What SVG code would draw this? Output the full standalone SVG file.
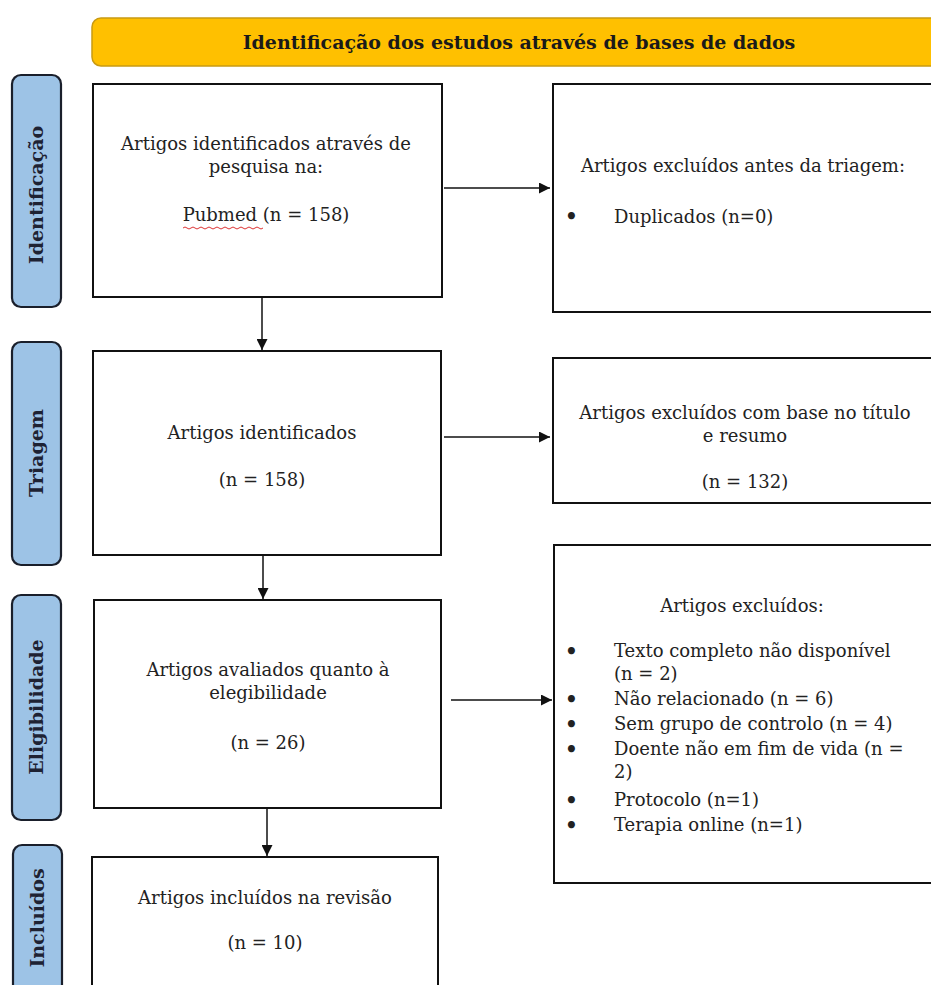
<svg xmlns="http://www.w3.org/2000/svg" width="931" height="985" viewBox="0 0 931 985">
<defs>
<style>
.box{fill:#fff;stroke:#111;stroke-width:2}
.side{fill:#9DC3E6;stroke:#1a1f2b;stroke-width:2.2}
.t{font-family:"DejaVu Serif","Liberation Serif",serif;font-size:18px;fill:#222}
.c{text-anchor:middle}
.b{font-size:20px;font-weight:bold}
.sl{font-family:"DejaVu Serif","Liberation Serif",serif;font-size:19px;font-weight:bold;fill:#1e2233;text-anchor:middle}
.hd{font-family:"DejaVu Serif","Liberation Serif",serif;font-size:19px;font-weight:bold;fill:#1a1a1a;text-anchor:middle}
.ln{stroke:#111;stroke-width:1.5;fill:none}
</style>
<marker id="ah" viewBox="0 0 10 10" refX="10" refY="5" markerWidth="11" markerHeight="11" markerUnits="userSpaceOnUse" orient="auto">
<path d="M0,0 L10,5 L0,10 z" fill="#111"/>
</marker>
</defs>
<rect width="931" height="985" fill="#fff"/>

<g id="header">
<rect x="92" y="18" width="850" height="48" rx="9" fill="#FFC000" stroke="#C99A12" stroke-width="1.5"/>
<text class="hd" x="519" y="49">Identificação dos estudos através de bases de dados</text>
</g>

<g id="lbl-identificacao">
<rect class="side" x="12" y="75" width="49" height="232" rx="9"/>
<text class="sl" transform="translate(43,195) rotate(-90)">Identificação</text>
</g>
<g id="lbl-triagem">
<rect class="side" x="12" y="342" width="49" height="223" rx="9"/>
<text class="sl" transform="translate(43,453) rotate(-90)">Triagem</text>
</g>
<g id="lbl-eligibilidade">
<rect class="side" x="12" y="595" width="49" height="225" rx="9"/>
<text class="sl" transform="translate(43,707) rotate(-90)">Eligibilidade</text>
</g>
<g id="lbl-incluidos">
<rect class="side" x="13" y="845" width="49" height="160" rx="9"/>
<text class="sl" transform="translate(44,918) rotate(-90)">Incluídos</text>
</g>

<g id="box-identificados">
<rect class="box" x="93" y="84" width="349" height="213"/>
<text class="t c" x="266" y="150">Artigos identificados através de</text>
<text class="t c" x="266" y="173">pesquisa na:</text>
<text class="t c" x="266" y="221">Pubmed (n = 158)</text>
<path d="M183,228 q2,-2 4,0 t4,0 t4,0 t4,0 t4,0 t4,0 t4,0 t4,0 t4,0 t4,0 t4,0 t4,0 t4,0 t4,0 t4,0 t4,0 t4,0 t4,0 t4,0 t4,0" fill="none" stroke="#d33" stroke-width="1"/>
</g>

<g id="box-excl-antes">
<rect class="box" x="553" y="84" width="390" height="228"/>
<text class="t c" x="743" y="172">Artigos excluídos antes da triagem:</text>
<text class="t b" x="565" y="223">•</text>
<text class="t" x="614" y="223">Duplicados (n=0)</text>
</g>

<g id="box-triagem">
<rect class="box" x="93" y="351" width="348" height="204"/>
<text class="t c" x="262" y="439">Artigos identificados</text>
<text class="t c" x="262" y="486">(n = 158)</text>
</g>

<g id="box-excl-titulo">
<rect class="box" x="553" y="358" width="390" height="145"/>
<text class="t c" x="745" y="419">Artigos excluídos com base no título</text>
<text class="t c" x="745" y="442">e resumo</text>
<text class="t c" x="745" y="488">(n = 132)</text>
</g>

<g id="box-elegibilidade">
<rect class="box" x="94" y="600" width="347" height="208"/>
<text class="t c" x="268" y="676">Artigos avaliados quanto à</text>
<text class="t c" x="268" y="699">elegibilidade</text>
<text class="t c" x="268" y="749">(n = 26)</text>
</g>

<g id="box-excluidos">
<rect class="box" x="554" y="545" width="389" height="338"/>
<text class="t c" x="742" y="612">Artigos excluídos:</text>
<g class="t">
<text class="b" x="565" y="658">•</text><text x="614" y="657">Texto completo não disponível</text>
<text x="614" y="680">(n = 2)</text>
<text class="b" x="565" y="706">•</text><text x="614" y="705">Não relacionado (n = 6)</text>
<text class="b" x="565" y="731">•</text><text x="614" y="730">Sem grupo de controlo (n = 4)</text>
<text class="b" x="565" y="756">•</text><text x="614" y="755">Doente não em fim de vida (n =</text>
<text x="614" y="778">2)</text>
<text class="b" x="565" y="807">•</text><text x="614" y="806">Protocolo (n=1)</text>
<text class="b" x="565" y="832">•</text><text x="614" y="831">Terapia online (n=1)</text>
</g>
</g>

<g id="box-incluidos">
<rect class="box" x="92" y="857" width="346" height="140"/>
<text class="t c" x="265" y="904">Artigos incluídos na revisão</text>
<text class="t c" x="265" y="949">(n = 10)</text>
</g>

<g id="connectors">
<line class="ln" x1="262" y1="297" x2="262" y2="350" marker-end="url(#ah)"/>
<line class="ln" x1="263" y1="555" x2="263" y2="599" marker-end="url(#ah)"/>
<line class="ln" x1="267" y1="808" x2="267" y2="856" marker-end="url(#ah)"/>
<line class="ln" x1="444" y1="188" x2="550" y2="188" marker-end="url(#ah)"/>
<line class="ln" x1="444" y1="437" x2="550" y2="437" marker-end="url(#ah)"/>
<line class="ln" x1="451" y1="700" x2="552" y2="700" marker-end="url(#ah)"/>
</g>
</svg>
